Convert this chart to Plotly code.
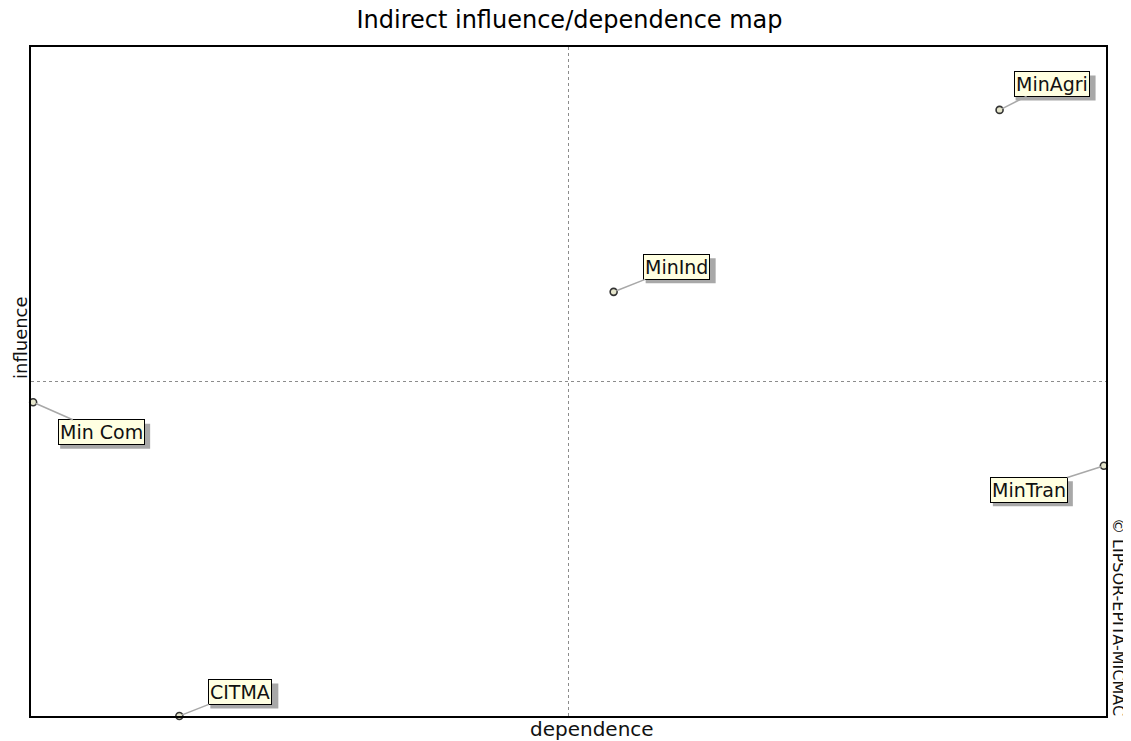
import plotly.graph_objects as go

# ---- data ----
actors = ["MinAgri", "MinInd", "Min Com", "MinTran", "CITMA"]
dependence = [901, 542, 2, 998, 138]
influence = [906, 634, 469, 374, 0]
axis_max = 1000
center_dep = 500
center_inf = 500

# label offsets in pixels (style only)
label_dx = [52, 63, 68, -75, 61]
label_dy = [-26, -25, 30, 24, -24]
# approximate label box sizes in pixels (for the drop shadow)
box_w = [80, 70, 90, 80, 68]
box_h = 25

FONT = "DejaVu Sans"

fig = go.Figure()

fig.add_trace(go.Scatter(
    x=dependence, y=influence, mode="markers",
    marker=dict(size=7, color="#e6e6cc", line=dict(color="#333333", width=1.6)),
    cliponaxis=False, hoverinfo="text", text=actors, showlegend=False,
))

# quadrant separators
fig.add_shape(type="line", xref="x", yref="y", x0=center_dep, x1=center_dep, y0=0, y1=axis_max,
              line=dict(color="#8c8c8c", width=1, dash="dot"), layer="below")
fig.add_shape(type="line", xref="x", yref="y", x0=0, x1=axis_max, y0=center_inf, y1=center_inf,
              line=dict(color="#8c8c8c", width=1, dash="dot"), layer="below")

# label drop shadows (pixel-sized rectangles anchored at the points)
for xv, yv, dx, dy, w in zip(dependence, influence, label_dx, label_dy, box_w):
    fig.add_shape(
        type="rect", xref="x", yref="y", xsizemode="pixel", ysizemode="pixel",
        xanchor=xv, yanchor=yv,
        x0=dx - w / 2 + 4, x1=dx + w / 2 + 4,
        y0=-dy - box_h / 2 - 4, y1=-dy + box_h / 2 - 4,
        fillcolor="#a8a8a8", line=dict(width=0), layer="above",
    )

# labels
for name, xv, yv, dx, dy in zip(actors, dependence, influence, label_dx, label_dy):
    fig.add_annotation(
        x=xv, y=yv, text=name, showarrow=True, arrowhead=0, arrowwidth=1.5,
        arrowcolor="#a8a8a8", ax=dx, ay=dy, standoff=3,
        font=dict(family=FONT, size=19, color="#111111"),
        bgcolor="#ffffe1", bordercolor="#000000", borderwidth=1, borderpad=1,
    )

# axis titles as annotations (positioned like the reference)
fig.add_annotation(xref="paper", yref="paper", x=0.522, y=0, yshift=-13,
                   xanchor="center", yanchor="middle", text="dependence",
                   showarrow=False, font=dict(family=FONT, size=20, color="#111111"))
fig.add_annotation(xref="paper", yref="paper", x=0, y=0.565, xshift=-11,
                   xanchor="center", yanchor="middle", text="influence",
                   showarrow=False, textangle=-90, font=dict(family=FONT, size=18, color="#111111"))

# copyright text
fig.add_annotation(
    xref="paper", yref="paper", x=1.0, y=0.148, xshift=12, xanchor="center", yanchor="middle",
    text="© LIPSOR-EPITA-MICMAC",
    showarrow=False, textangle=90, font=dict(family=FONT, size=16, color="#111111"),
)

# page body has an 8px margin -> figure is sized/margined to compensate
fig.update_layout(
    width=1123, height=733,
    margin=dict(l=23, r=25, t=39, b=25, autoexpand=False),
    paper_bgcolor="white", plot_bgcolor="white",
    title=dict(text="Indirect influence/dependence map", x=0.5, xanchor="center",
               y=1 - 3 / 733, yanchor="top", yref="container", pad=dict(t=0, b=0),
               font=dict(family=FONT, size=24, color="#000000")),
    xaxis=dict(range=[0, axis_max], showgrid=False, zeroline=False, showticklabels=False,
               ticks="", showline=True, linecolor="#000000", linewidth=2, mirror=True,
               automargin=False),
    yaxis=dict(range=[0, axis_max], showgrid=False, zeroline=False, showticklabels=False,
               ticks="", showline=True, linecolor="#000000", linewidth=2, mirror=True,
               automargin=False),
)

fig.write_html("out.html")
